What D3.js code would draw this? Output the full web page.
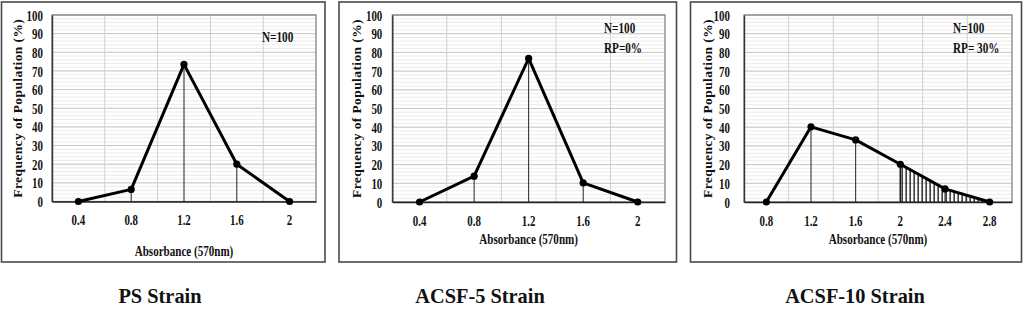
<!DOCTYPE html>
<meta charset="utf-8">
<script src="https://d3js.org/d3.v7.min.js"></script>
<style>
  body { margin: 0; background: #fff; }
  svg text { font-family: "Liberation Serif", "Times New Roman", "DejaVu Serif", serif; font-weight: bold; fill: #111; }
</style>
<body>
<svg id="chart" width="1024" height="311"></svg>
<script>

// data
const psX = ["0.4", "0.8", "1.2", "1.6", "2"];
const psY = [0, 6.5, 73.5, 20, 0];

const acsf5X = ["0.4", "0.8", "1.2", "1.6", "2"];
const acsf5Y = [0, 13.8, 76.8, 10.2, 0];

const acsf10X = ["0.8", "1.2", "1.6", "2", "2.4", "2.8"];
const acsf10Y = [0, 40.2, 33.2, 20.2, 7, 0];

const yTicks = [0, 10, 20, 30, 40, 50, 60, 70, 80, 90, 100];
const minorTicks = d3.range(0, 101, 2);

const svg = d3.select("#chart");

// squash glyphs horizontally, like the condensed Times in the picture
function squash(sel, sx) {
  sel.each(function() {
    const t = d3.select(this);
    const x = +t.attr("x") || 0, y = +t.attr("y") || 0;
    t.attr("x", 0).attr("y", 0)
      .attr("transform", `translate(${x},${y}) scale(${sx},1)`);
  });
}

function drawPanel(p) {
  // outer frame
  svg.append("rect")
    .attr("x", p.frame[0]).attr("y", p.frame[1])
    .attr("width", p.frame[2] - p.frame[0]).attr("height", p.frame[3] - p.frame[1])
    .attr("fill", "none").attr("stroke", "#4a4a4a").attr("stroke-width", 1.6);

  const x = d3.scaleBand().domain(p.cats).range([p.left, p.right]);
  const y = d3.scaleLinear().domain([0, 100]).range([p.bottom, 15]);
  const cx = d => x(d) + x.bandwidth() / 2;
  const g = svg.append("g");

  // minor + major horizontal grid
  g.selectAll(".minor").data(minorTicks).join("line")
    .attr("x1", p.left).attr("x2", p.right)
    .attr("y1", d => y(d)).attr("y2", d => y(d))
    .attr("stroke", "#e6e6e6").attr("stroke-width", 0.8);
  g.selectAll(".major").data(yTicks).join("line")
    .attr("x1", p.left).attr("x2", p.right)
    .attr("y1", d => y(d)).attr("y2", d => y(d))
    .attr("stroke", "#c8c8c8").attr("stroke-width", 1);
  // vertical grid at category boundaries
  g.selectAll(".vgrid").data(p.cats.slice(1)).join("line")
    .attr("x1", d => x(d)).attr("x2", d => x(d))
    .attr("y1", y(100)).attr("y2", y(0))
    .attr("stroke", "#d0d0d0").attr("stroke-width", 1);

  // plot border
  g.append("rect")
    .attr("x", p.left).attr("y", y(100))
    .attr("width", p.right - p.left).attr("height", y(0) - y(100))
    .attr("fill", "none").attr("stroke", "#7a7a7a").attr("stroke-width", 1.2);

  const pts = p.cats.map((c, i) => ({ c: c, v: p.vals[i] }));

  // hatched region under the tail
  if (p.hatchFrom) {
    const i0 = p.cats.indexOf(p.hatchFrom);
    const tail = pts.slice(i0);
    g.append("path")
      .datum(tail)
      .attr("fill", "url(#hatch)")
      .attr("d", d3.area().x(d => cx(d.c)).y0(y(0)).y1(d => y(d.v)));
    g.append("line")
      .attr("x1", cx(p.hatchFrom)).attr("x2", cx(p.hatchFrom))
      .attr("y1", y(p.vals[i0])).attr("y2", y(0))
      .attr("stroke", "#111").attr("stroke-width", 1.4);
  }

  // drop lines
  g.selectAll(".drop").data(pts.filter(d => d.v > 0)).join("line")
    .attr("x1", d => cx(d.c)).attr("x2", d => cx(d.c))
    .attr("y1", d => y(d.v)).attr("y2", y(0))
    .attr("stroke", "#222").attr("stroke-width", 1);

  // axes
  const ya = g.append("g").attr("transform", `translate(${p.left},0)`)
    .call(d3.axisLeft(y).tickValues(yTicks).tickSize(0).tickPadding(0));
  ya.select(".domain").attr("stroke", "#333").attr("stroke-width", 1.4);
  ya.selectAll("text").attr("x", -p.ytickPad).attr("dy", "0.36em")
    .style("font-size", "14px").call(squash, 0.78);

  const xa = g.append("g").attr("transform", `translate(0,${y(0)})`)
    .call(d3.axisBottom(x).tickSize(0).tickPadding(0));
  xa.select(".domain").attr("stroke", "#222").attr("stroke-width", 1.6);
  xa.selectAll("text").attr("y", 23.5).attr("dy", 0)
    .style("font-size", "14px").call(squash, 0.78);

  // line + markers
  g.append("path").datum(pts)
    .attr("fill", "none").attr("stroke", "#000").attr("stroke-width", 3)
    .attr("stroke-linejoin", "round")
    .attr("d", d3.line().x(d => cx(d.c)).y(d => y(d.v)));
  g.selectAll(".dot").data(pts).join("circle")
    .attr("cx", d => cx(d.c)).attr("cy", d => y(d.v)).attr("r", 3.6)
    .attr("fill", "#000");

  // axis titles
  g.append("text")
    .attr("text-anchor", "middle")
    .attr("transform", `translate(${p.left - p.ytitleOff},${(y(0) + y(100)) / 2}) rotate(-90)`)
    .style("font-size", "13.5px").style("letter-spacing", "0.4px")
    .text("Frequency of Population (%)");
  g.append("text")
    .attr("text-anchor", "middle")
    .attr("x", (p.left + p.right) / 2).attr("y", p.xtitleY)
    .style("font-size", "14px")
    .text("Absorbance (570nm)")
    .call(squash, 0.79);

  // notes
  p.notes.forEach((n, i) => {
    g.append("text")
      .attr("x", p.noteX).attr("y", p.noteY + i * 19.5)
      .style("font-size", "14px")
      .text(n)
      .call(squash, 0.8);
  });

  // panel caption
  svg.append("text")
    .attr("text-anchor", "middle")
    .attr("x", p.capX).attr("y", 303)
    .style("font-size", "21px")
    .text(p.caption)
    .call(squash, 0.97);
}

// hatch pattern
svg.append("defs").append("pattern")
  .attr("id", "hatch").attr("patternUnits", "userSpaceOnUse")
  .attr("width", 4).attr("height", 10)
  .append("rect").attr("x", 1.5).attr("y", 0).attr("width", 1.3).attr("height", 10)
  .attr("fill", "#111");

drawPanel({
  frame: [1.5, 2, 325, 262], left: 52, right: 316, bottom: 201.5,
  cats: psX, vals: psY, ytickPad: 9, ytitleOff: 30, xtitleY: 256,
  notes: ["N=100"], noteX: 262, noteY: 42,
  caption: "PS Strain", capX: 160
});
drawPanel({
  frame: [339, 2, 676.5, 262], left: 392.3, right: 665, bottom: 202,
  cats: acsf5X, vals: acsf5Y, ytickPad: 10, ytitleOff: 31, xtitleY: 243.5,
  notes: ["N=100", "RP=0%"], noteX: 604, noteY: 33,
  caption: "ACSF-5 Strain", capX: 480
});
drawPanel({
  frame: [690.5, 2, 1021.5, 262], left: 744, right: 1012, bottom: 202,
  cats: acsf10X, vals: acsf10Y, ytickPad: 14, ytitleOff: 32, xtitleY: 243.5,
  notes: ["N=100", "RP= 30%"], noteX: 953, noteY: 33,
  caption: "ACSF-10 Strain", capX: 855,
  hatchFrom: "2"
});

</script>
</body>
